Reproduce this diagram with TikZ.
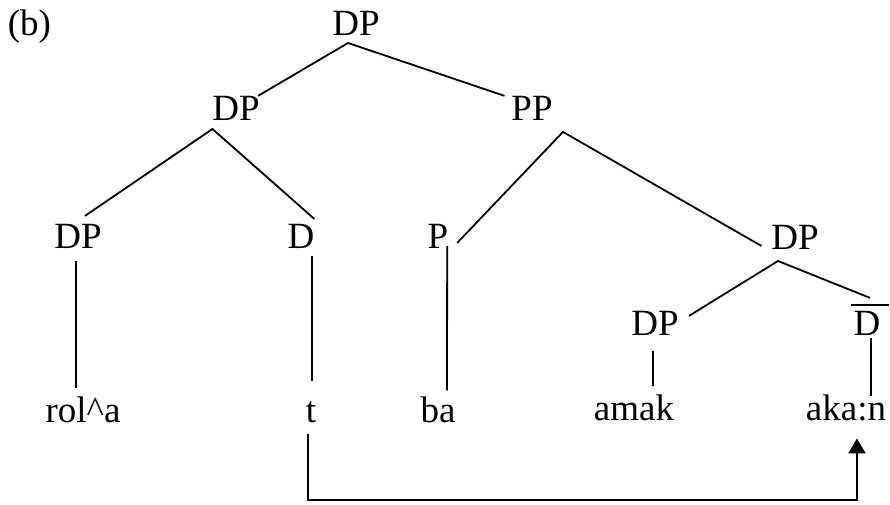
\documentclass[tikz,border=0pt]{standalone}
\usepackage{fontspec}
\setmainfont{Liberation Serif}
\usepackage{tikz}
\usetikzlibrary{calc,arrows.meta}

\begin{document}
\begin{tikzpicture}[x=1pt, y=-1pt, line width=1.8pt,
    lab/.style={inner sep=0pt, anchor=base, font=\fontsize{37}{44}\selectfont},
    move/.style={-{Triangle[width=17pt, length=15pt]}}]
      \useasboundingbox (0, 0) rectangle (890, 504);
      \node[lab, anchor=base west] (tag) at (7, 35) {(b)};
      \node[lab] (top) at (356, 35) {DP};
      \node[lab] (dpa) at (236, 120) {DP};
      \node[lab] (pp) at (532, 120) {PP};
      \node[lab] (dpb) at (78, 248) {DP};
      \node[lab] (d) at (301, 248) {D};
      \node[lab] (p) at (438, 248) {P};
      \node[lab] (dpc) at (795, 249) {DP};
      \node[lab] (dpd) at (655, 335) {DP};
      \node[lab] (dbar) at (867, 335) {D};
      \node[lab] (rola) at (83, 422) {rol\textasciicircum a};
      \node[lab] (t) at (311, 422) {t};
      \node[lab] (ba) at (438, 422) {ba};
      \node[lab] (amak) at (634, 420) {amak};
      \node[lab] (akan) at (846, 420) {aka:n};
      \draw ($(dbar.north west) + (-1.5, -5)$) -- ($(dbar.north east) + (7.5, -5)$);
      \draw ($(dpa.north east) + (-2.5, 1)$) -- ($(top.south) + (-8, 7)$)
        -- ($(pp.north west) + (-6, 1)$);
      \draw ($(dpb.north) + (7, -7)$) -- ($(dpa.south west) + (1, 8)$)
        -- ($(d.north east) + (-1, -4)$);
      \draw ($(p.south east) + (8, -6)$) -- ($(pp.south east) + (9.5, 11)$)
        -- ($(dpc.south west) + (-9, -4)$);
      \draw ($(dpd.north east) + (9.5, 6)$) -- ($(dpc.south) + (-17, 11)$)
        -- ($(dbar.north) + (3, -12)$);
      \draw ($(dpb.south) + (-2, 12)$) -- ($(rola.north) + (-7, -7)$);
      \draw ($(d.south) + (11, 7)$) -- ($(t.north) + (1, -19)$);
      \draw ($(p.south east) + (-2, -3)$) -- ($(ba.north) + (9, -5)$);
      \draw ($(dpd.south) + (-2, 15)$) -- ($(amak.north) + (19, -7)$);
      \draw ($(dbar.south) + (4, 2)$) -- ($(akan.north) + (25, 3)$);
      \draw[move] ($(t.south) + (-3, 11)$) -- ($(t.south) + (-3, 77)$)
        -| ($(akan.south) + (11, 17)$);
    \end{tikzpicture}
\end{document}
